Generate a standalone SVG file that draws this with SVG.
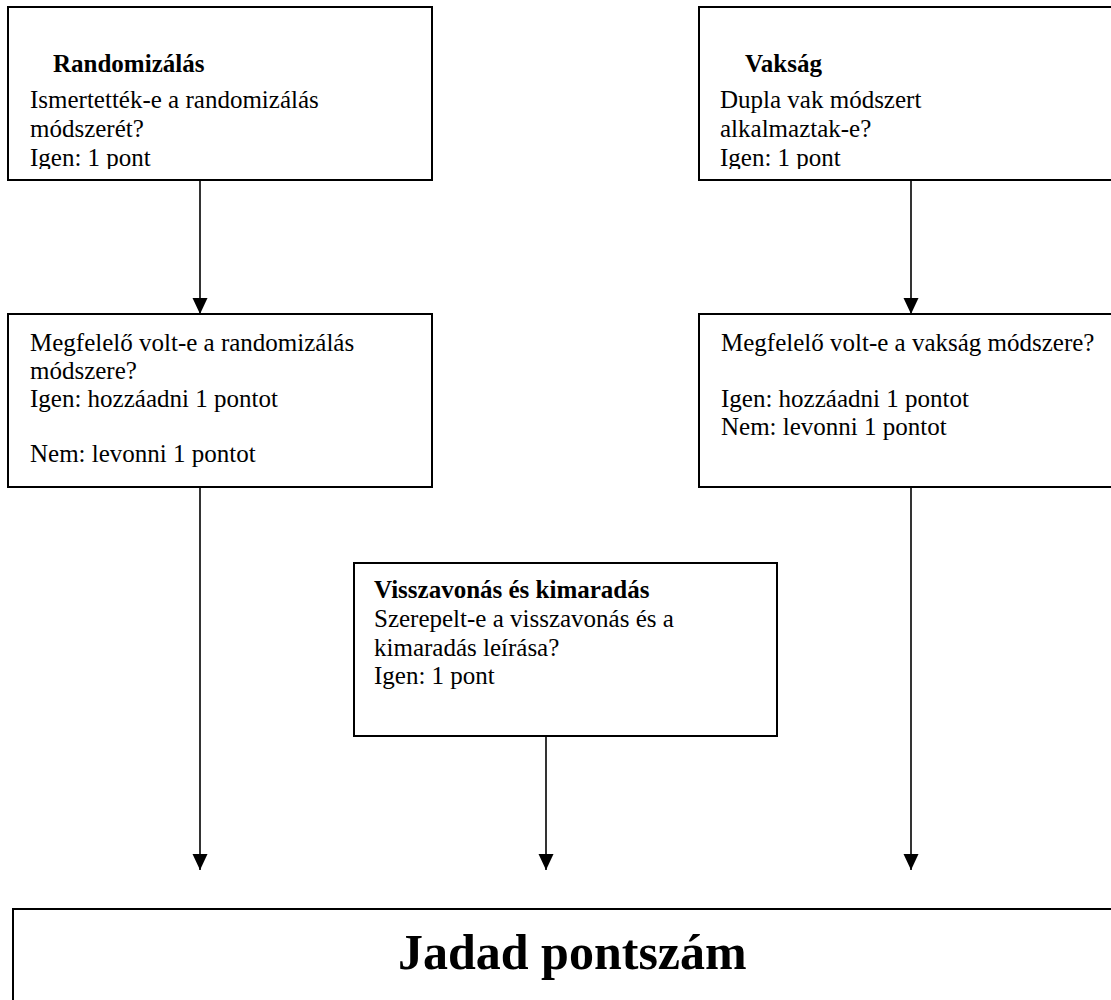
<svg xmlns="http://www.w3.org/2000/svg" width="1111" height="1000" viewBox="0 0 1111 1000">
<style>
.box{fill:#fff;stroke:#000;stroke-width:2}
.t{font-family:"Liberation Serif","Times New Roman",serif;font-size:25px;fill:#000}
.b{font-weight:bold}
.big{font-family:"Liberation Serif","Times New Roman",serif;font-size:50px;font-weight:bold;fill:#000}
.conn{stroke:#000;stroke-width:1.6;fill:none;marker-end:url(#arr)}
</style>
<defs>
<marker id="arr" markerUnits="userSpaceOnUse" markerWidth="16" markerHeight="16" refX="16" refY="7.5" orient="auto">
<path d="M0,0 L16,7.5 L0,15 z" fill="#000"/>
</marker>
<clipPath id="c1"><rect x="0" y="0" width="1111" height="169"/></clipPath>
</defs>
<rect width="1111" height="1000" fill="#fff"/>
<g id="connectors">
<line class="conn" x1="200" y1="180" x2="200" y2="314"/>
<line class="conn" x1="911" y1="180" x2="911" y2="314"/>
<line class="conn" x1="200" y1="487" x2="200" y2="870"/>
<line class="conn" x1="546" y1="736" x2="546" y2="870"/>
<line class="conn" x1="911" y1="487" x2="911" y2="870"/>
</g>
<g id="randomizalas">
<rect class="box" x="8" y="7" width="424" height="173"/>
<text class="t b" x="53" y="72">Randomizálás</text>
<g clip-path="url(#c1)">
<text class="t" x="30" y="108">Ismertették-e a randomizálás</text>
<text class="t" x="30" y="137">módszerét?</text>
<text class="t" x="30" y="166">Igen: 1 pont</text>
</g>
</g>
<g id="vaksag">
<rect class="box" x="699" y="7" width="430" height="173"/>
<text class="t b" x="745" y="72">Vakság</text>
<g clip-path="url(#c1)">
<text class="t" x="720" y="108">Dupla vak módszert</text>
<text class="t" x="720" y="137">alkalmaztak-e?</text>
<text class="t" x="720" y="166">Igen: 1 pont</text>
</g>
</g>
<g id="rand-megfelelo">
<rect class="box" x="8" y="314" width="424" height="173"/>
<text class="t" x="30" y="351">Megfelelő volt-e a randomizálás</text>
<text class="t" x="30" y="379">módszere?</text>
<text class="t" x="30" y="407">Igen: hozzáadni 1 pontot</text>
<text class="t" x="30" y="462">Nem: levonni 1 pontot</text>
</g>
<g id="vak-megfelelo">
<rect class="box" x="699" y="314" width="430" height="173"/>
<text class="t" x="721" y="351">Megfelelő volt-e a vakság módszere?</text>
<text class="t" x="721" y="407">Igen: hozzáadni 1 pontot</text>
<text class="t" x="721" y="435">Nem: levonni 1 pontot</text>
</g>
<g id="visszavonas">
<rect class="box" x="354" y="563" width="423" height="173"/>
<text class="t b" x="374" y="598">Visszavonás és kimaradás</text>
<text class="t" x="374" y="627">Szerepelt-e a visszavonás és a</text>
<text class="t" x="374" y="656">kimaradás leírása?</text>
<text class="t" x="374" y="684">Igen: 1 pont</text>
</g>
<g id="jadad">
<rect class="box" x="13" y="909" width="1120" height="120"/>
<text class="big" x="398" y="969">Jadad pontszám</text>
</g>
</svg>
